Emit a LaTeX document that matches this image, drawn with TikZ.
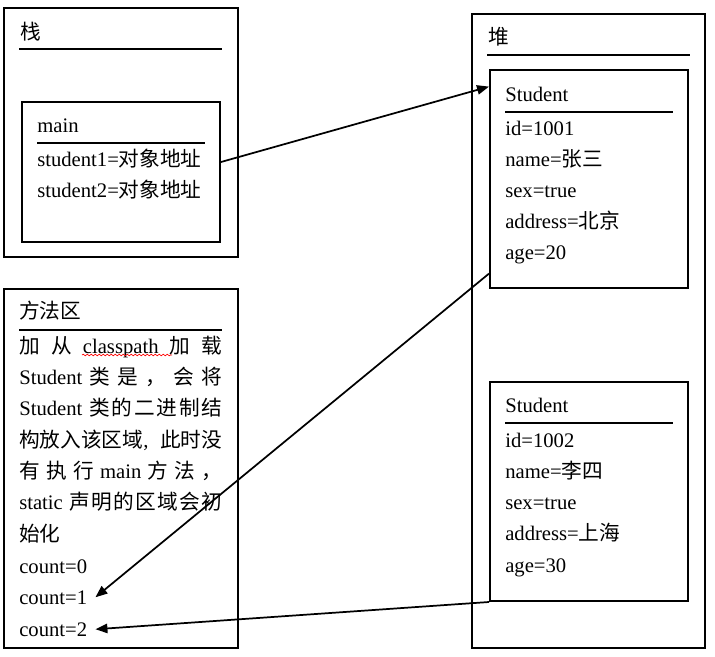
\documentclass[tikz,border=0pt]{standalone}
\usepackage{fontspec}
\setmainfont{Liberation Serif}
\newfontfamily\cjk{Noto Sans CJK SC}
\usetikzlibrary{arrows.meta, fit, calc, decorations.pathmorphing}
\newcommand{\zh}[1]{{\cjk #1}}
\newcommand{\fillline}[1]{\makebox[152.25pt][s]{#1}}

\begin{document}
\begin{tikzpicture}[x=0.75pt, y=-0.75pt, font=\fontsize{15.5}{18}\selectfont]
\tikzstyle{area} = [rectangle, draw=black, line width=1.5pt, inner sep=0pt]
\tikzstyle{txt} = [anchor=base west, inner sep=0pt]
\tikzstyle{rule} = [line width=0.8pt]
\tikzstyle{arrow} = [line width=1.3pt, -{Triangle[length=9pt,width=7pt]}]

\useasboundingbox (0,0) rectangle (715,657);

% Stack
\node[area, fit={(4,8) (238,257)}] (stack) {};
\node[txt] (stacktitle) at (20,39) {\zh{栈}};
\draw[rule] (19,49) -- (222,49);
\node[area, fit={(22,102) (220,242)}] (mainbox) {};
\node[txt] (maintitle) at (37,132) {main};
\draw[rule] (37,143) -- (205,143);
\node[txt] (st1) at (37,166) {student1=\zh{对象地址}};
\node[txt] (st2) at (37,197) {student2=\zh{对象地址}};

% Method area
\node[area, fit={(4,289) (238,648)}] (method) {};
\node[txt] (methodtitle) at (19,318) {\zh{方法区}};
\draw[rule] (19,330) -- (222,330);
\node[txt] (m1) at (19,353) {\fillline{\zh{加}\hfill\zh{从}\hfill classpath\hfill\zh{加}\hfill\zh{载}}};
\node[txt] (m2) at (19,384) {\fillline{Student\hfill\zh{类}\hfill\zh{是}\hfill\zh{，}\hfill\zh{会}\hfill\zh{将}}};
\node[txt] (m3) at (19,415) {\fillline{Student\ \hfill\zh{类}\hfill\zh{的}\hfill\zh{二}\hfill\zh{进}\hfill\zh{制}\hfill\zh{结}}};
\node[txt] (m4) at (19,447) {\fillline{\zh{构放入该区域},\hfill\zh{此时没}}};
\node[txt] (m5) at (19,478) {\fillline{\zh{有}\hfill\zh{执}\hfill\zh{行}\hfill main\hfill\zh{方}\hfill\zh{法}\hfill\zh{，}}};
\node[txt] (m6) at (19,509) {\fillline{static\ \hfill\zh{声}\hfill\zh{明}\hfill\zh{的}\hfill\zh{区}\hfill\zh{域}\hfill\zh{会}\hfill\zh{初}}};
\node[txt] (m7) at (19,541) {\zh{始化}};
\node[txt] (c0) at (19,573) {count=0};
\node[txt] (c1) at (19,604) {count=1};
\node[txt] (c2) at (19,636) {count=2};
\draw[red, line width=0.5pt, decorate, decoration={snake, amplitude=0.6pt, segment length=3pt}] (82,355) -- (172,355);

% Heap
\node[area, fit={(472,14) (705,648)}] (heap) {};
\node[txt] (heaptitle) at (488,44) {\zh{堆}};
\draw[rule] (487,55) -- (690,55);

\node[area, fit={(490,70) (688,288)}] (s1box) {};
\node[txt] (s1title) at (505,101) {Student};
\draw[rule] (505,112) -- (673,112);
\node[txt] (s1id) at (505,135) {id=1001};
\node[txt] (s1name) at (505,166) {name=\zh{张三}};
\node[txt] (s1sex) at (505,197) {sex=true};
\node[txt] (s1addr) at (505,228) {address=\zh{北京}};
\node[txt] (s1age) at (505,259) {age=20};

\node[area, fit={(490,382) (688,601)}] (s2box) {};
\node[txt] (s2title) at (505,412) {Student};
\draw[rule] (505,423) -- (673,423);
\node[txt] (s2id) at (505,447) {id=1002};
\node[txt] (s2name) at (505,478) {name=\zh{李四}};
\node[txt] (s2sex) at (505,509) {sex=true};
\node[txt] (s2addr) at (505,540) {address=\zh{上海}};
\node[txt] (s2age) at (505,572) {age=30};

% Arrows
\draw[arrow] ($(mainbox.east |- st1.base)+(0,-4)$) -- ($(s1box.north west)!0.08!(s1box.south west)$);
\draw[arrow] ($(s1box.north west)!0.93!(s1box.south west)$) -- ([xshift=6pt]c1.east);
\draw[arrow] (s2box.south west) -- ([xshift=6pt]c2.east);
\end{tikzpicture}
\end{document}
